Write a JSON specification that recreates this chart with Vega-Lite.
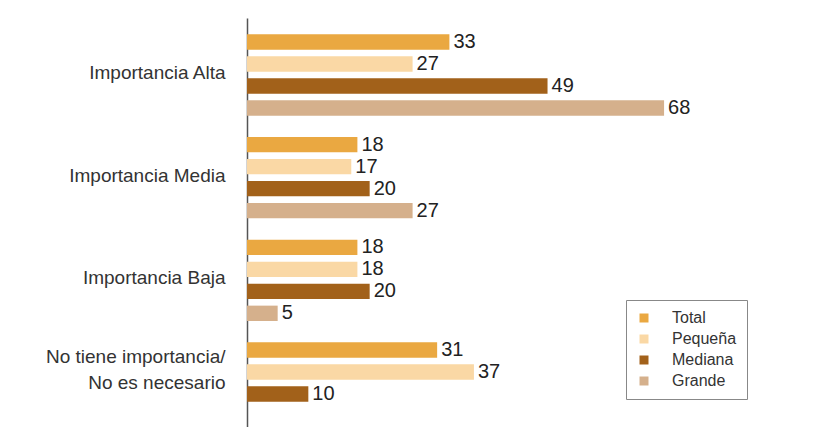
{
  "$schema": "https://vega.github.io/schema/vega-lite/v6.json",
  "autosize": "none",
  "width": 552,
  "height": 409,
  "padding": {"left": 247, "top": 18, "right": 14, "bottom": 0},
  "background": "white",
  "config": {"view": {"stroke": null}, "font": "Liberation Sans"},
  "data": {
    "values": [
      {"categoria": "Importancia Alta", "tamano": "Total", "valor": 33},
      {"categoria": "Importancia Alta", "tamano": "Pequeña", "valor": 27},
      {"categoria": "Importancia Alta", "tamano": "Mediana", "valor": 49},
      {"categoria": "Importancia Alta", "tamano": "Grande", "valor": 68},
      {"categoria": "Importancia Media", "tamano": "Total", "valor": 18},
      {"categoria": "Importancia Media", "tamano": "Pequeña", "valor": 17},
      {"categoria": "Importancia Media", "tamano": "Mediana", "valor": 20},
      {"categoria": "Importancia Media", "tamano": "Grande", "valor": 27},
      {"categoria": "Importancia Baja", "tamano": "Total", "valor": 18},
      {"categoria": "Importancia Baja", "tamano": "Pequeña", "valor": 18},
      {"categoria": "Importancia Baja", "tamano": "Mediana", "valor": 20},
      {"categoria": "Importancia Baja", "tamano": "Grande", "valor": 5},
      {"categoria": "No tiene importancia/ No es necesario", "tamano": "Total", "valor": 31},
      {"categoria": "No tiene importancia/ No es necesario", "tamano": "Pequeña", "valor": 37},
      {"categoria": "No tiene importancia/ No es necesario", "tamano": "Mediana", "valor": 10}
    ]
  },
  "encoding": {
    "y": {
      "field": "categoria",
      "type": "nominal",
      "sort": ["Importancia Alta", "Importancia Media", "Importancia Baja", "No tiene importancia/ No es necesario"],
      "scale": {"paddingInner": 0.143, "paddingOuter": 0.0633, "align": 1},
      "axis": {
        "title": null,
        "domain": true,
        "domainColor": "#555555",
        "domainWidth": 1.5,
        "ticks": false,
        "labelFontSize": 19,
        "labelColor": "#333333",
        "labelPadding": 22,
        "labelLimit": 300,
        "labelLineHeight": 26,
        "labelOffset": {
          "condition": {"test": "datum.value == 'No tiene importancia/ No es necesario'", "value": -26},
          "value": -2
        },
        "labelExpr": "datum.value == 'No tiene importancia/ No es necesario' ? ['No tiene importancia/', 'No es necesario'] : datum.value"
      }
    },
    "yOffset": {
      "field": "tamano",
      "type": "nominal",
      "sort": ["Total", "Pequeña", "Mediana", "Grande"],
      "scale": {"paddingInner": 0.3, "paddingOuter": 0.15}
    },
    "x": {
      "field": "valor",
      "type": "quantitative",
      "scale": {"domain": [0, 90]},
      "axis": null
    }
  },
  "layer": [
    {
      "mark": {"type": "bar"},
      "encoding": {
        "color": {
          "field": "tamano",
          "type": "nominal",
          "sort": ["Total", "Pequeña", "Mediana", "Grande"],
          "scale": {
            "domain": ["Total", "Pequeña", "Mediana", "Grande"],
            "range": ["#EAA841", "#FAD8A5", "#A2611A", "#D5B08C"]
          },
          "legend": {
            "title": null,
            "orient": "none",
            "legendX": 379,
            "legendY": 282,
            "symbolType": "square",
            "symbolSize": 81,
            "symbolStrokeWidth": 0,
            "labelFontSize": 16,
            "labelColor": "#333333",
            "labelOffset": 20,
            "padding": 10,
            "rowPadding": 5,
            "strokeColor": "#888888",
            "fillColor": "white"
          }
        }
      }
    },
    {
      "mark": {"type": "text", "align": "left", "baseline": "middle", "dx": 4, "fontSize": 20, "color": "#222222"},
      "encoding": {"text": {"field": "valor", "type": "quantitative"}}
    }
  ]
}
